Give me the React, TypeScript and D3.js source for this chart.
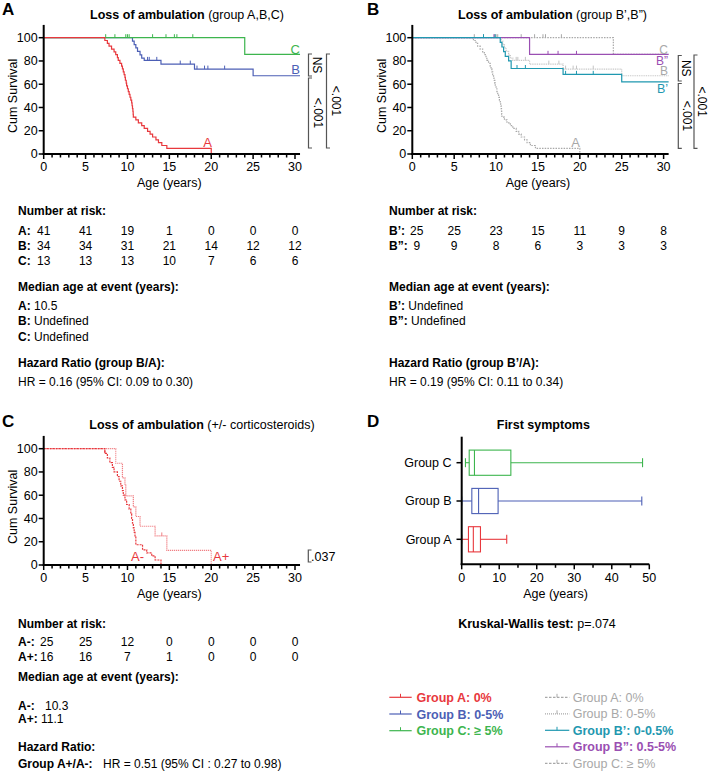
import * as d3 from "d3";

type Ev = [number, number];

const FONT = "'Liberation Sans', Arial, Helvetica, sans-serif";

const ageTicks = [0, 5, 10, 15, 20, 25, 30];
const survTicks = [0, 20, 40, 60, 80, 100];
const AGE_END = 30.6;

// Kaplan-Meier steps: [age, cum survival after event]
const groupA: Ev[] = [
  [7.3, 97.6], [7.6, 95.1], [7.8, 92.7], [8.1, 90.2], [8.4, 87.8], [8.6, 85.4], [8.8, 82.9],
  [8.9, 80.5], [9.1, 78.0], [9.3, 75.6], [9.4, 73.2], [9.5, 70.7], [9.6, 68.3], [9.7, 65.9],
  [9.75, 63.4], [9.85, 61.0], [9.9, 58.5], [10.0, 56.1], [10.1, 53.7], [10.2, 51.2], [10.3, 48.8],
  [10.4, 46.3], [10.5, 43.9], [10.55, 41.5], [10.6, 39.0], [10.65, 36.6], [10.68, 34.1], [10.7, 31.7],
  [11.0, 29.3], [11.3, 26.8], [11.7, 24.4], [12.0, 22.0], [12.4, 19.5], [12.7, 17.1], [13.0, 14.6],
  [13.4, 12.2], [13.7, 9.8], [14.1, 7.3], [14.7, 4.9], [20.0, 0],
];
const groupACensored: number[] = [];
const groupB: Ev[] = [
  [10.6, 97.1], [10.8, 94.1], [11.0, 91.2], [11.2, 88.2], [11.5, 85.3], [11.7, 82.4], [12.0, 80.5],
  [14.0, 77.3], [18.0, 73.0], [25.0, 67.3],
];
const groupBCensored = [12.4, 12.6, 13.5, 16.3, 17.5, 18.3, 19.2, 19.6, 21.6];
const groupC: Ev[] = [[24.0, 85.7]];
const groupCCensored = [7.4, 8.5, 9.8, 10.0, 10.2, 13.0, 14.6, 15.6, 15.9, 17.8];

const groupB1: Ev[] = [
  [10.5, 96], [10.7, 92], [10.9, 88], [11.1, 84], [11.5, 80], [11.8, 73.5], [18.0, 68.5], [25.0, 62],
];
const groupB1Censored = [8.5, 9.9, 12.5, 13.5, 18.3, 19.6, 21.6];
const groupB2: Ev[] = [[14.0, 85.7]];
const groupB2Censored = [9.75, 16.2, 17.4, 19.6];

const groupAMinus: Ev[] = [
  [7.3, 96], [7.6, 92], [7.9, 88], [8.2, 84], [8.4, 80], [8.8, 76], [9.0, 72], [9.2, 68], [9.4, 64],
  [9.5, 60], [9.7, 56], [9.9, 52], [10.2, 48], [10.4, 44], [10.5, 40], [10.6, 36], [10.7, 32],
  [10.8, 28], [10.9, 24], [11.0, 17.4], [11.8, 13], [12.3, 10.4], [12.9, 7.8], [13.3, 4.3], [14.0, 0],
];
const groupAMinusCensored = [7.3];
const groupAPlus: Ev[] = [
  [8.6, 87.5], [9.4, 75], [9.7, 68.8], [9.8, 59.4], [10.7, 50], [11.0, 41.7], [11.5, 33.3],
  [13.3, 25], [14.7, 12.5], [20.0, 0],
];
const groupAPlusCensored = [14.1];

// number at risk
const riskA = [41, 41, 19, 1, 0, 0, 0];
const riskB = [34, 34, 31, 21, 14, 12, 12];
const riskC = [13, 13, 13, 10, 7, 6, 6];
const riskB1 = [25, 25, 23, 15, 11, 9, 8];
const riskB2 = [9, 9, 8, 6, 3, 3, 3];
const riskAMinus = [25, 25, 12, 0, 0, 0, 0];
const riskAPlus = [16, 16, 7, 1, 0, 0, 0];

// first symptoms box plot
const boxGroups = ["Group A", "Group B", "Group C"];
const boxMin = [0, 0, 1];
const boxQ1 = [1.8, 2.7, 2.0];
const boxMedian = [3.1, 4.5, 3.4];
const boxQ3 = [5.0, 9.7, 13.1];
const boxMax = [12, 48, 48.2];
const symptomTicks = [0, 10, 20, 30, 40, 50];

const legendLeft = ["Group A: 0%", "Group B: 0-5%", "Group C: \u2265 5%"];
const legendRight = ["Group A: 0%", "Group B: 0-5%", "Group B\u2019: 0-0.5%", "Group B\u201d: 0.5-5%", "Group C: \u2265 5%"];

const RED = "#e8383d";
const BLUE = "#4c5fb5";
const GREEN = "#3db54e";
const TEAL = "#1f98b0";
const PURPLE = "#9a4fb2";
const GREY = "#a8a8a8";

function survAt(events: Ev[], t: number) {
  let s = 100;
  for (const [a, v] of events) if (a <= t) s = v;
  return s;
}

interface Curve {
  events: Ev[];
  censored: number[];
  color: string;
  dash?: string;
  width?: number;
}

function KMPanel({ left, bottom, curves }: { left: number; bottom: number; curves: Curve[] }) {
  const x = d3.scaleLinear().domain([0, 30]).range([left, left + 251.3]);
  const y = d3.scaleLinear().domain([0, 100]).range([bottom, bottom - 116.3]);
  const line = d3.line<Ev>().x(d => x(d[0])).y(d => y(d[1])).curve(d3.curveStepAfter);
  return (
    <g>
      {curves.map((c, i) => {
        const last = c.events[c.events.length - 1];
        const pts: Ev[] = [[0, 100], ...c.events];
        if (last[1] > 0) pts.push([AGE_END, last[1]]);
        return (
          <g key={i}>
            <path d={line(pts) || ""} fill="none" stroke={c.color} strokeWidth={c.width ?? 1.2}
              strokeDasharray={c.dash} />
            {c.censored.map((t, j) => (
              <line key={j} x1={x(t)} x2={x(t)} y1={y(survAt(c.events, t))} y2={y(survAt(c.events, t)) - 3.5}
                stroke={c.color} strokeWidth={1} />
            ))}
          </g>
        );
      })}
      {/* axes */}
      <line x1={left} x2={left} y1={y(111)} y2={y(0) + 1} stroke="#000" strokeWidth={2} />
      <line x1={left - 1} x2={x(AGE_END)} y1={y(0)} y2={y(0)} stroke="#000" strokeWidth={2} />
      {survTicks.map(t => (
        <g key={t}>
          <line x1={left - 5} x2={left} y1={y(t)} y2={y(t)} stroke="#000" strokeWidth={1.5} />
          <text x={left - 6} y={y(t)} dy="0.35em" textAnchor="end" fontSize={12.5}>{t}</text>
        </g>
      ))}
      {d3.range(0, 31).map(t => (
        <line key={t} x1={x(t)} x2={x(t)} y1={y(0)} y2={y(0) + (t % 5 === 0 ? 5 : 3.5)} stroke="#000"
          strokeWidth={1.5} />
      ))}
      {ageTicks.map(t => (
        <text key={t} x={x(t)} y={y(0) + 17} textAnchor="middle" fontSize={12.5}>{t}</text>
      ))}
      <text transform={`translate(${left - 31},${y(50)}) rotate(-90)`} textAnchor="middle" dy="0.35em"
        fontSize={12.5}>Cum Survival</text>
      <text x={x(15)} y={y(0) + 33} textAnchor="middle" fontSize={12.5}>Age (years)</text>
    </g>
  );
}

function Bracket({ x, y1, y2, tx, label }: { x: number; y1: number; y2: number; tx: number; label: string }) {
  return (
    <g>
      <path d={`M${x + 3.5},${y1}H${x}V${y2}H${x + 3.5}`} fill="none" stroke="#555" strokeWidth={1.2} />
      <text transform={`translate(${tx},${(y1 + y2) / 2}) rotate(90)`} textAnchor="middle" dy="0.35em"
        fontSize={12}>{label}</text>
    </g>
  );
}

function RiskRows({ left, labelX, rows, firstShift, top }:
  { left: number; labelX: number; rows: { label: string; values: number[] }[]; firstShift: number; top: number }) {
  const x = d3.scaleLinear().domain([0, 30]).range([left, left + 251.3]);
  return (
    <g>
      {rows.map((r, i) => (
        <g key={i}>
          <text x={labelX} y={top + i * 15.2} fontSize={12} fontWeight="bold">{r.label}</text>
          {r.values.map((v, j) => (
            <text key={j} x={x(ageTicks[j]) + (j === 0 ? firstShift : 0)} y={top + i * 15.2}
              textAnchor="middle" fontSize={12}>{v}</text>
          ))}
        </g>
      ))}
    </g>
  );
}

function BoxPanel() {
  const x = d3.scaleLinear().domain([0, 50]).range([461.7, 649.3]);
  const y = d3.scalePoint<string>().domain(boxGroups).range([539.3, 462.7]);
  const colors = [RED, BLUE, GREEN];
  const h = 12.6;
  return (
    <g>
      {boxGroups.map((g, i) => {
        const cy = y(g) as number;
        const c = colors[i];
        return (
          <g key={g} stroke={c} strokeWidth={1.1} fill="none">
            <line x1={x(boxMin[i])} x2={x(boxQ1[i])} y1={cy} y2={cy} />
            <line x1={x(boxQ3[i])} x2={x(boxMax[i])} y1={cy} y2={cy} />
            <line x1={x(boxMin[i])} x2={x(boxMin[i])} y1={cy - 4.5} y2={cy + 4.5} />
            <line x1={x(boxMax[i])} x2={x(boxMax[i])} y1={cy - 4.5} y2={cy + 4.5} />
            <rect x={x(boxQ1[i])} y={cy - h} width={x(boxQ3[i]) - x(boxQ1[i])} height={2 * h} />
            <line x1={x(boxMedian[i])} x2={x(boxMedian[i])} y1={cy - h} y2={cy + h} />
          </g>
        );
      })}
      <line x1={461.7} x2={461.7} y1={436.7} y2={565} stroke="#000" strokeWidth={2} />
      <line x1={460.7} x2={x(50)} y1={564.3} y2={564.3} stroke="#000" strokeWidth={2} />
      {boxGroups.map(g => (
        <g key={g}>
          <line x1={456.5} x2={461.7} y1={y(g) as number} y2={y(g) as number} stroke="#000" strokeWidth={1.5} />
          <text x={451.5} y={y(g) as number} dy="0.35em" textAnchor="end" fontSize={12.5}>{g}</text>
        </g>
      ))}
      {d3.range(0, 51, 5).map(t => (
        <line key={t} x1={x(t)} x2={x(t)} y1={564.3} y2={564.3 + (t % 10 === 0 ? 5 : 3.5)} stroke="#000"
          strokeWidth={1.5} />
      ))}
      {symptomTicks.map(t => (
        <text key={t} x={x(t)} y={581.5} textAnchor="middle" fontSize={12.5}>{t}</text>
      ))}
      <text x={x(25)} y={597.5} textAnchor="middle" fontSize={12.5}>Age (years)</text>
    </g>
  );
}

export default function App() {
  const legendStyles = [
    { color: RED, bold: true, dash: undefined },
    { color: BLUE, bold: true, dash: undefined },
    { color: GREEN, bold: true, dash: undefined },
  ];
  const legendStylesR = [
    { color: GREY, bold: false, dash: "2.5,1.5" },
    { color: GREY, bold: false, dash: "1,1" },
    { color: TEAL, bold: true, dash: undefined },
    { color: PURPLE, bold: true, dash: undefined },
    { color: GREY, bold: false, dash: "2.5,1.5" },
  ];
  return (
    <svg width={709} height={772} viewBox="0 0 709 772"
      style={{ position: "absolute", left: 0, top: 0, background: "#fff", fontFamily: FONT }}>
      <rect width={709} height={772} fill="#fff" />

      {/* Panel A */}
      <text x={2} y={15} fontSize={17} fontWeight="bold">A</text>
      <text x={187} y={19} textAnchor="middle" fontSize={12.5}>
        <tspan fontWeight="bold">Loss of ambulation</tspan><tspan> (group A,B,C)</tspan>
      </text>
      <KMPanel left={43.7} bottom={154} curves={[
        { events: groupB, censored: groupBCensored, color: BLUE },
        { events: groupC, censored: groupCCensored, color: GREEN },
        { events: groupA, censored: groupACensored, color: RED },
      ]} />
      <text x={300} y={54} textAnchor="end" fontSize={13} fill={GREEN}>C</text>
      <text x={300} y={74} textAnchor="end" fontSize={13} fill={BLUE}>B</text>
      <text x={212} y={147} textAnchor="end" fontSize={13} fill={RED}>A</text>
      <Bracket x={308.5} y1={54} y2={76} tx={317} label="NS" />
      <Bracket x={308.5} y1={78} y2={148} tx={318.5} label="<.001" />
      <Bracket x={326.5} y1={54} y2={148} tx={336.5} label="<.001" />

      {/* Panel B */}
      <text x={367} y={15} fontSize={17} fontWeight="bold">B</text>
      <text x={552.5} y={19} textAnchor="middle" fontSize={12.5}>
        <tspan fontWeight="bold">Loss of ambulation</tspan><tspan> (group B{"\u2019"},B{"\u201d"})</tspan>
      </text>
      <KMPanel left={412.3} bottom={154} curves={[
        { events: groupA, censored: groupACensored, color: GREY, dash: "1.5,1.2" },
        { events: groupC, censored: groupCCensored, color: GREY, dash: "1.5,1.2" },
        { events: groupB, censored: groupBCensored, color: "#c4c4c4", dash: "1,0.8" },
        { events: groupB2, censored: groupB2Censored, color: PURPLE },
        { events: groupB1, censored: groupB1Censored, color: TEAL },
      ]} />
      <text x={668} y={53.5} textAnchor="end" fontSize={12} fill={GREY}>C</text>
      <text x={668} y={64.5} textAnchor="end" fontSize={12} fill={PURPLE}>B{"\u201d"}</text>
      <text x={668} y={75} textAnchor="end" fontSize={12} fill={GREY}>B</text>
      <text x={668} y={93} textAnchor="end" fontSize={12.5} fill={TEAL}>B{"\u2019"}</text>
      <text x={580} y={147} textAnchor="end" fontSize={13} fill={GREY}>A</text>
      <Bracket x={678.3} y1={55.5} y2={81} tx={686.5} label="NS" />
      <Bracket x={678.3} y1={83.5} y2={148.3} tx={687.5} label="<.001" />
      <Bracket x={694} y1={55} y2={148.3} tx={702} label="<.001" />

      {/* Panel A text */}
      <text x={18} y={214.5} fontSize={12} fontWeight="bold">Number at risk:</text>
      <RiskRows left={43.7} labelX={18} firstShift={0} top={234.5} rows={[
        { label: "A:", values: riskA }, { label: "B:", values: riskB }, { label: "C:", values: riskC },
      ]} />
      <text x={18} y={291} fontSize={12} fontWeight="bold">Median age at event (years):</text>
      <text x={18} y={310} fontSize={12}><tspan fontWeight="bold">A:</tspan> 10.5</text>
      <text x={18} y={325} fontSize={12}><tspan fontWeight="bold">B:</tspan> Undefined</text>
      <text x={18} y={340.5} fontSize={12}><tspan fontWeight="bold">C:</tspan> Undefined</text>
      <text x={18} y={367} fontSize={12} fontWeight="bold">Hazard Ratio (group B/A):</text>
      <text x={18} y={386} fontSize={12}>HR = 0.16 (95% CI: 0.09 to 0.30)</text>

      {/* Panel B text */}
      <text x={389} y={214.5} fontSize={12} fontWeight="bold">Number at risk:</text>
      <RiskRows left={412.3} labelX={389} firstShift={4.5} top={234.5} rows={[
        { label: "B\u2019:", values: riskB1 }, { label: "B\u201d:", values: riskB2 },
      ]} />
      <text x={389} y={291} fontSize={12} fontWeight="bold">Median age at event (years):</text>
      <text x={389} y={310} fontSize={12}><tspan fontWeight="bold">B{"\u2019"}:</tspan> Undefined</text>
      <text x={389} y={324.5} fontSize={12}><tspan fontWeight="bold">B{"\u201d"}:</tspan> Undefined</text>
      <text x={389} y={367} fontSize={12} fontWeight="bold">Hazard Ratio (group B{"\u2019"}/A):</text>
      <text x={389} y={386} fontSize={12}>HR = 0.19 (95% CI: 0.11 to 0.34)</text>

      {/* Panel C */}
      <text x={2} y={427} fontSize={17} fontWeight="bold">C</text>
      <text x={202} y={429} textAnchor="middle" fontSize={12.5}>
        <tspan fontWeight="bold">Loss of ambulation</tspan><tspan> (+/- corticosteroids)</tspan>
      </text>
      <KMPanel left={43.7} bottom={565} curves={[
        { events: groupAPlus, censored: groupAPlusCensored, color: "#f07f84", dash: "1.2,0.8" },
        { events: groupAMinus, censored: groupAMinusCensored, color: RED, dash: "2,1" },
      ]} />
      <text x={131} y={561} fontSize={13} fill={RED}>A-</text>
      <text x={213} y={561} fontSize={13} fill={RED}>A+</text>
      <path d="M311.5,550H308.3V562H311.5" fill="none" stroke="#555" strokeWidth={1.2} />
      <text x={311} y={561} fontSize={12.5}>.037</text>

      <text x={18} y={627.5} fontSize={12} fontWeight="bold">Number at risk:</text>
      <RiskRows left={43.7} labelX={18} firstShift={3} top={646} rows={[
        { label: "A-:", values: riskAMinus }, { label: "A+:", values: riskAPlus },
      ]} />
      <text x={18} y={681} fontSize={12} fontWeight="bold">Median age at event (years):</text>
      <text x={18} y={709.5} fontSize={12}><tspan fontWeight="bold">A-:</tspan><tspan x={45}>10.3</tspan></text>
      <text x={18} y={723} fontSize={12}><tspan fontWeight="bold">A+:</tspan><tspan x={41}>11.1</tspan></text>
      <text x={18} y={751} fontSize={12} fontWeight="bold">Hazard Ratio:</text>
      <text x={18} y={767.5} fontSize={12}><tspan fontWeight="bold">Group A+/A-:</tspan><tspan x={103}>HR = 0.51 (95% CI : 0.27 to 0.98)</tspan></text>

      {/* Panel D */}
      <text x={367} y={427} fontSize={17} fontWeight="bold">D</text>
      <text x={543.3} y={429} textAnchor="middle" fontSize={12.5} fontWeight="bold">First symptoms</text>
      <BoxPanel />
      <text x={537} y={627.5} textAnchor="middle" fontSize={12.5}>
        <tspan fontWeight="bold">Kruskal-Wallis test:</tspan><tspan> p=.074</tspan>
      </text>

      {/* Legend */}
      {legendLeft.map((l, i) => {
        const yy = 697.3 + i * 16.7;
        const s = legendStyles[i];
        return (
          <g key={l}>
            <line x1={389.3} x2={411.7} y1={yy} y2={yy} stroke={s.color} strokeWidth={1.2} />
            <line x1={400.5} x2={400.5} y1={yy} y2={yy - 3.5} stroke={s.color} strokeWidth={1} />
            <text x={416.5} y={yy + 4.5} fontSize={12.5} fontWeight="bold" fill={s.color}>{l}</text>
          </g>
        );
      })}
      {legendRight.map((l, i) => {
        const yy = 697.3 + i * 16.5;
        const s = legendStylesR[i];
        return (
          <g key={l}>
            <line x1={545} x2={569.3} y1={yy} y2={yy} stroke={s.color} strokeWidth={1.2} strokeDasharray={s.dash} />
            <line x1={557} x2={557} y1={yy} y2={yy - 3.5} stroke={s.color} strokeWidth={1} />
            <text x={572.7} y={yy + 4.5} fontSize={12.5} fontWeight={s.bold ? "bold" : "normal"} fill={s.color}>{l}</text>
          </g>
        );
      })}
    </svg>
  );
}
